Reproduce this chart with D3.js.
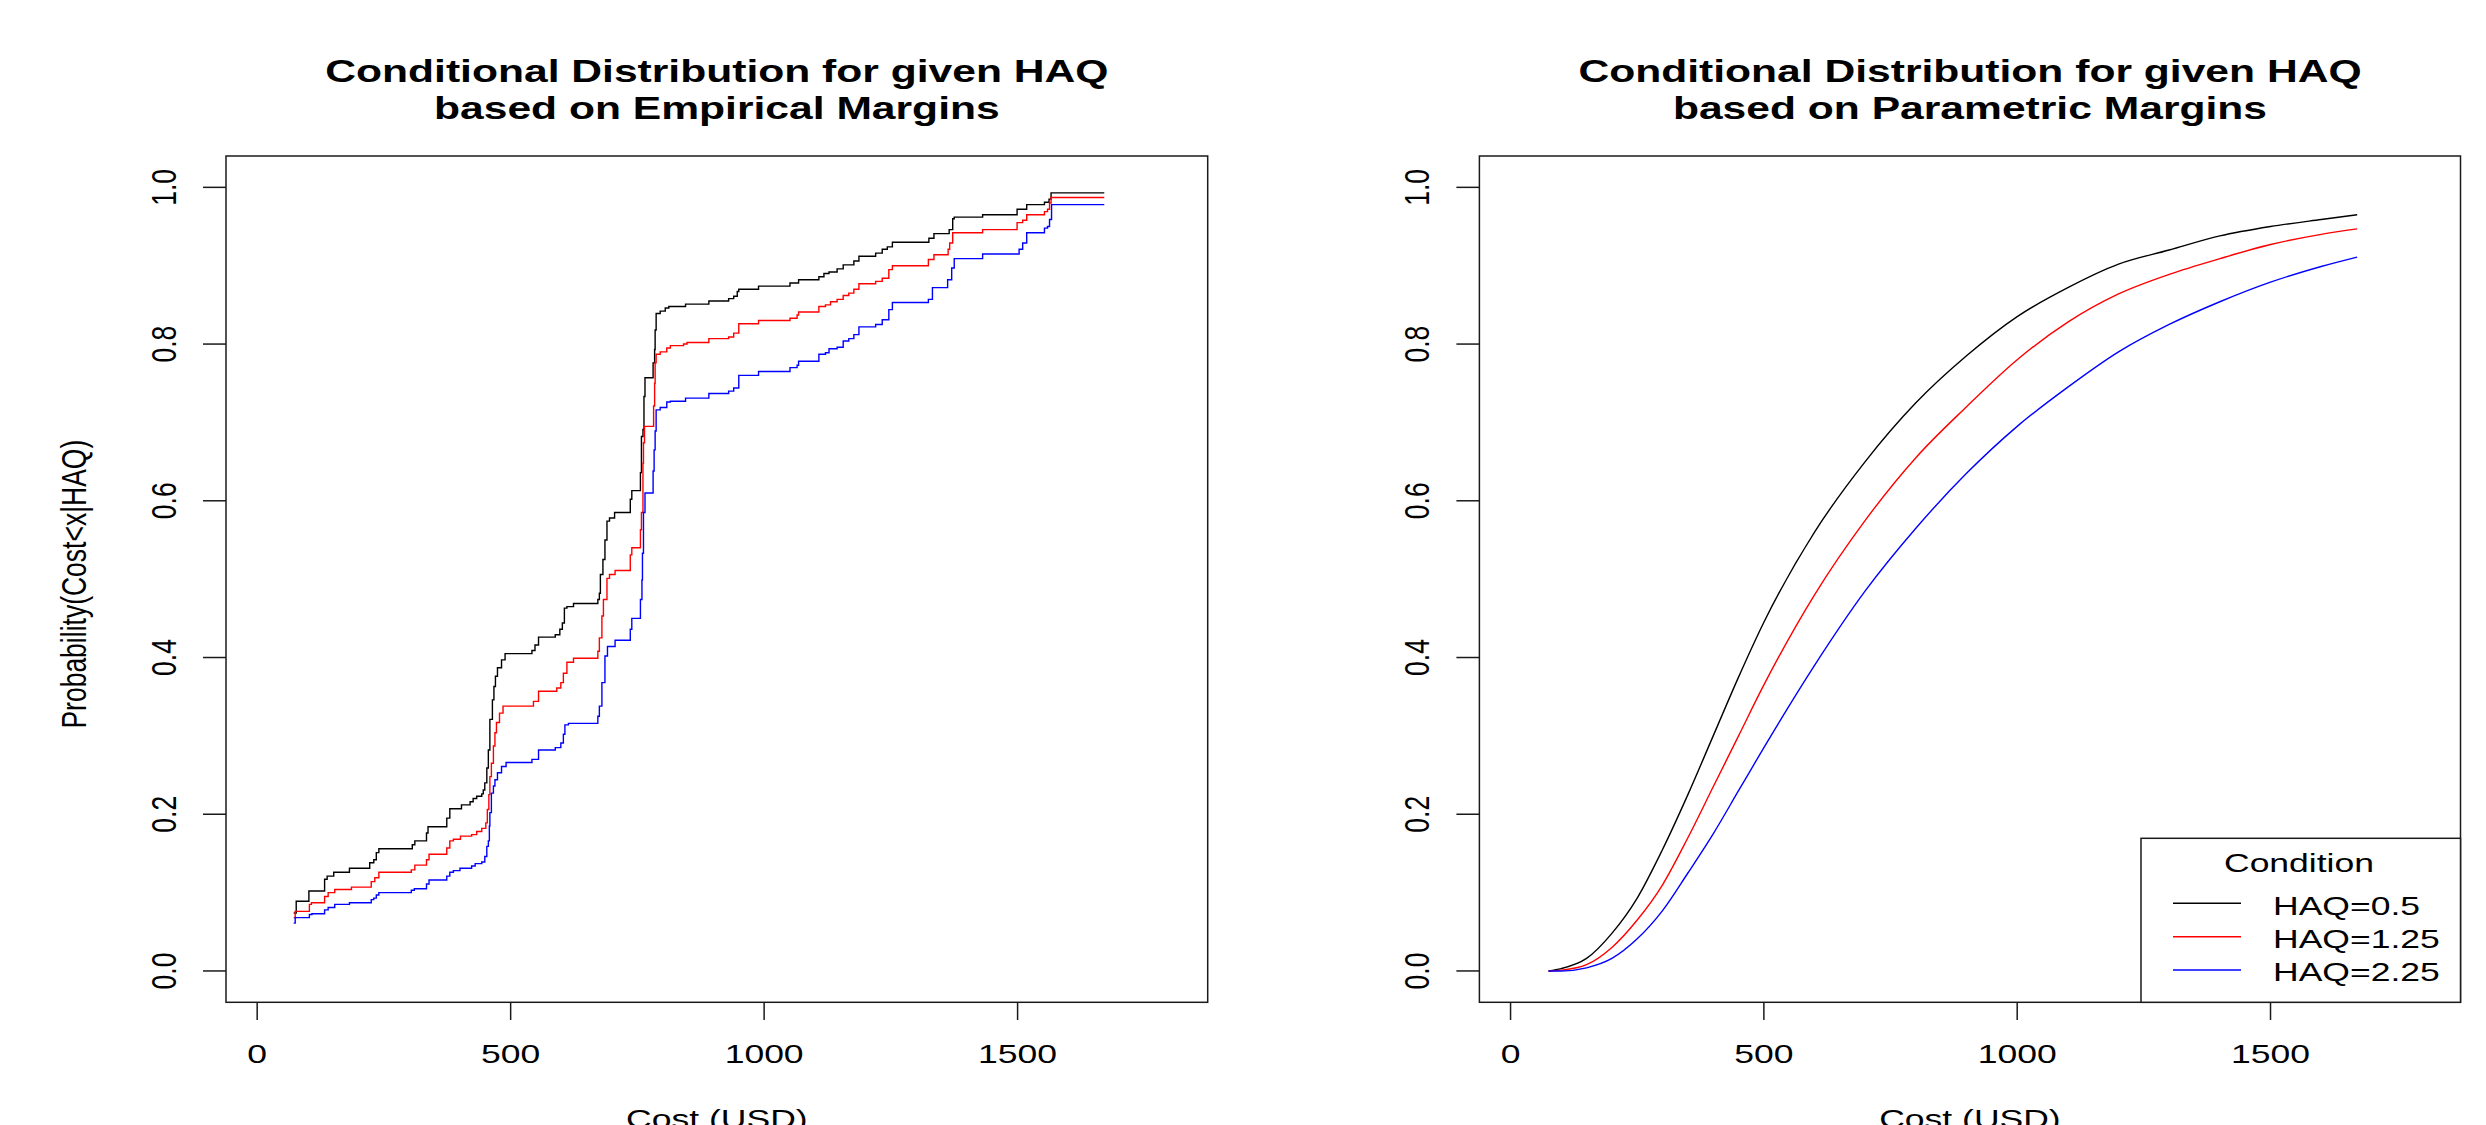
<!DOCTYPE html>
<html><head><meta charset="utf-8">
<script src="https://cdn.jsdelivr.net/npm/d3@7"></script>
<style>html,body{margin:0;padding:0;background:#fff;} svg{display:block;}</style>
</head><body>
<script>
// ---------- data ----------
const xTicks = [0, 500, 1000, 1500];
const yTicks = [0, 0.2, 0.4, 0.6, 0.8, 1.0];
const seriesNames = ["HAQ=0.5", "HAQ=1.25", "HAQ=2.25"];
const seriesColors = ["#000000", "#ff0000", "#0000ff"];
const titlesLeft = ["Conditional Distribution for given HAQ", "based on Empirical Margins"];
const titlesRight = ["Conditional Distribution for given HAQ", "based on Parametric Margins"];
const xLabel = "Cost (USD)";
const yLabel = "Probability(Cost<x|HAQ)";
const legendTitle = "Condition";

// empirical step curves: [cost, probability]
const empHAQ05 = [[72,0.074],[77,0.089],[102,0.102],[133,0.117],[138,0.121],[151,0.126],[182,0.131],[222,0.138],[230,0.142],[235,0.151],[240,0.156],[306,0.161],[311,0.166],[334,0.176],[337,0.184],[374,0.195],[380,0.207],[403,0.212],[420,0.216],[426,0.220],[433,0.223],[443,0.226],[446,0.231],[449,0.240],[453,0.259],[456,0.282],[459,0.321],[464,0.346],[467,0.363],[470,0.376],[474,0.387],[482,0.397],[489,0.405],[542,0.409],[548,0.416],[555,0.426],[588,0.429],[597,0.436],[602,0.444],[606,0.463],[611,0.465],[624,0.469],[672,0.474],[675,0.482],[677,0.506],[682,0.525],[686,0.550],[690,0.574],[695,0.578],[705,0.585],[736,0.602],[739,0.613],[756,0.636],[758,0.682],[761,0.691],[763,0.733],[765,0.757],[781,0.776],[784,0.793],[785,0.818],[787,0.839],[795,0.842],[805,0.846],[812,0.848],[845,0.851],[891,0.855],[930,0.858],[940,0.861],[947,0.867],[950,0.870],[989,0.874],[1051,0.878],[1068,0.882],[1108,0.886],[1118,0.890],[1128,0.892],[1144,0.896],[1156,0.901],[1177,0.906],[1187,0.912],[1220,0.916],[1233,0.921],[1243,0.924],[1253,0.930],[1325,0.935],[1335,0.941],[1365,0.946],[1372,0.960],[1375,0.962],[1431,0.965],[1499,0.972],[1518,0.978],[1553,0.981],[1562,0.985],[1566,0.993],[1671,0.993]];
const empHAQ125 = [[72,0.068],[75,0.076],[103,0.085],[107,0.087],[133,0.095],[140,0.100],[153,0.104],[186,0.107],[225,0.114],[232,0.119],[240,0.126],[304,0.129],[311,0.135],[334,0.142],[339,0.149],[374,0.157],[380,0.166],[387,0.168],[401,0.172],[423,0.174],[433,0.178],[443,0.182],[451,0.189],[454,0.206],[457,0.225],[459,0.248],[462,0.265],[466,0.287],[469,0.304],[472,0.317],[478,0.329],[485,0.338],[545,0.344],[555,0.357],[591,0.361],[599,0.368],[604,0.380],[611,0.394],[624,0.399],[672,0.408],[675,0.425],[680,0.453],[683,0.474],[690,0.501],[695,0.506],[706,0.511],[736,0.531],[739,0.540],[756,0.563],[758,0.585],[761,0.648],[762,0.674],[764,0.695],[782,0.721],[784,0.750],[785,0.776],[787,0.787],[795,0.790],[808,0.795],[815,0.798],[841,0.800],[848,0.802],[891,0.807],[930,0.809],[940,0.814],[950,0.826],[989,0.830],[1051,0.833],[1065,0.837],[1068,0.841],[1108,0.848],[1121,0.850],[1131,0.854],[1144,0.857],[1156,0.862],[1167,0.865],[1177,0.870],[1187,0.877],[1220,0.880],[1233,0.884],[1246,0.895],[1253,0.900],[1324,0.908],[1335,0.914],[1363,0.921],[1366,0.929],[1372,0.942],[1431,0.946],[1499,0.955],[1510,0.958],[1518,0.965],[1553,0.969],[1559,0.972],[1563,0.980],[1566,0.987],[1671,0.987]];
const empHAQ225 = [[72,0.061],[75,0.068],[103,0.072],[108,0.073],[133,0.078],[140,0.081],[153,0.085],[182,0.087],[225,0.091],[230,0.093],[235,0.097],[240,0.100],[304,0.103],[310,0.105],[334,0.111],[339,0.116],[374,0.121],[380,0.126],[387,0.128],[400,0.131],[423,0.134],[430,0.137],[443,0.139],[449,0.146],[453,0.159],[456,0.166],[458,0.185],[459,0.202],[462,0.227],[466,0.236],[469,0.244],[474,0.253],[482,0.261],[491,0.266],[542,0.270],[555,0.282],[588,0.285],[599,0.291],[604,0.302],[607,0.314],[614,0.316],[672,0.325],[675,0.338],[680,0.368],[686,0.402],[691,0.414],[706,0.422],[736,0.436],[739,0.450],[756,0.474],[759,0.499],[760,0.533],[762,0.585],[765,0.610],[781,0.638],[783,0.665],[785,0.689],[787,0.716],[795,0.719],[808,0.726],[815,0.727],[845,0.731],[891,0.737],[930,0.740],[940,0.744],[950,0.760],[989,0.765],[1051,0.770],[1065,0.773],[1068,0.778],[1108,0.787],[1121,0.789],[1128,0.794],[1144,0.796],[1156,0.804],[1167,0.807],[1177,0.812],[1187,0.822],[1220,0.825],[1233,0.831],[1246,0.844],[1253,0.853],[1324,0.857],[1332,0.872],[1362,0.882],[1370,0.897],[1375,0.909],[1431,0.915],[1503,0.921],[1510,0.929],[1518,0.942],[1553,0.948],[1559,0.950],[1563,0.959],[1567,0.978],[1671,0.978]];

// parametric curves
const parCost   = [75, 100, 150, 200, 250, 300, 350, 400, 450, 500, 600, 700, 800, 900, 1000, 1100, 1200, 1300, 1400, 1500, 1600, 1671];
const parHAQ05  = [0, 0.003, 0.016, 0.048, 0.093, 0.155, 0.225, 0.300, 0.375, 0.445, 0.560, 0.650, 0.725, 0.785, 0.835, 0.872, 0.902, 0.920, 0.938, 0.950, 0.959, 0.965];
const parHAQ125 = [0, 0.001, 0.008, 0.030, 0.065, 0.110, 0.170, 0.235, 0.300, 0.365, 0.480, 0.575, 0.655, 0.720, 0.780, 0.828, 0.864, 0.889, 0.909, 0.927, 0.940, 0.947];
const parHAQ225 = [0, 0.000, 0.004, 0.016, 0.041, 0.077, 0.125, 0.175, 0.230, 0.285, 0.390, 0.485, 0.565, 0.635, 0.695, 0.745, 0.790, 0.825, 0.854, 0.879, 0.899, 0.911];

// ---------- layout ----------
const W = 2486, H = 1125;
const S = 1.34;            // horizontal stretch of the original raster
const FONT = "'Liberation Sans', Arial, Helvetica, sans-serif";
const AXFS = 26.5, TITFS = 31.8;
const plotTop = 156, plotBottom = 1002.3;
const panels = [
  {left: 226, right: 1207.7, titles: titlesLeft, ylab: true, legend: false,
   series: [empHAQ05, empHAQ125, empHAQ225], step: true},
  {left: 1479.4, right: 2460.5, titles: titlesRight, ylab: false, legend: true,
   series: [parHAQ05, parHAQ125, parHAQ225].map(v => parCost.map((c, i) => [c, v[i]])), step: false}
];

const svg = d3.select("body").append("svg").attr("width", W).attr("height", H)
  .style("background", "#fff");

function txt(g, x, y, s, opt = {}) {
  return g.append("text")
    .attr("transform", `translate(${x},${y}) scale(${S},1)` + (opt.rot ? " rotate(-90)" : ""))
    .attr("text-anchor", opt.anchor || "middle")
    .style("font-family", FONT)
    .style("font-size", (opt.fs || AXFS) + "px")
    .style("font-weight", opt.bold ? "bold" : "normal")
    .attr("fill", "#000")
    .text(s);
}

const yScale = d3.scaleLinear().domain([-0.04, 1.04]).range([plotBottom, plotTop]);

panels.forEach(p => {
  const g = svg.append("g");
  const xScale = d3.scaleLinear().domain([-61.5, 1875]).range([p.left, p.right]);
  const cx = (p.left + p.right) / 2;

  // curves
  const line = d3.line().x(d => xScale(d[0])).y(d => yScale(d[1]))
    .curve(p.step ? d3.curveStepAfter : d3.curveMonotoneX);
  g.selectAll("path.curve").data(p.series).join("path")
    .attr("class", "curve")
    .attr("d", line)
    .attr("fill", "none")
    .attr("stroke", (d, i) => seriesColors[i])
    .attr("stroke-width", 1.4);

  // box
  g.append("rect").attr("x", p.left).attr("y", plotTop)
    .attr("width", p.right - p.left).attr("height", plotBottom - plotTop)
    .attr("fill", "none").attr("stroke", "#1a1a1a").attr("stroke-width", 1.5);

  // x axis
  g.selectAll("line.xt").data(xTicks).join("line").attr("class", "xt")
    .attr("x1", d => xScale(d)).attr("x2", d => xScale(d))
    .attr("y1", plotBottom).attr("y2", plotBottom + 17.7)
    .attr("stroke", "#1a1a1a").attr("stroke-width", 1.5);
  xTicks.forEach(t => txt(g, xScale(t), 1062.7, String(t)));
  txt(g, cx, 1127.5, xLabel);

  // y axis
  g.selectAll("line.yt").data(yTicks).join("line").attr("class", "yt")
    .attr("x1", p.left - 23).attr("x2", p.left)
    .attr("y1", d => yScale(d)).attr("y2", d => yScale(d))
    .attr("stroke", "#1a1a1a").attr("stroke-width", 1.5);
  const fmt = d3.format(".1f");
  yTicks.forEach(t => txt(g, p.left - 50, yScale(t), fmt(t), {rot: true}));
  if (p.ylab) txt(g, 86, (plotTop + plotBottom) / 2 + 5, yLabel, {rot: true});

  // titles
  txt(g, cx, 81.7, p.titles[0], {fs: TITFS, bold: true});
  txt(g, cx, 119.3, p.titles[1], {fs: TITFS, bold: true});

  // legend
  if (p.legend) {
    const lx = 2141, ly = 838.3;
    g.append("rect").attr("x", lx).attr("y", ly)
      .attr("width", p.right - lx).attr("height", plotBottom - ly)
      .attr("fill", "#fff").attr("stroke", "#1a1a1a").attr("stroke-width", 1.5);
    txt(g, 2299, 871.7, legendTitle);
    const rowY = [903.3, 936.7, 970];
    seriesNames.forEach((n, i) => {
      g.append("line").attr("x1", 2173).attr("x2", 2241)
        .attr("y1", rowY[i]).attr("y2", rowY[i])
        .attr("stroke", seriesColors[i]).attr("stroke-width", 1.4);
      txt(g, 2273, rowY[i] + 11.3, n, {anchor: "start"});
    });
  }
});
</script>
</body></html>
